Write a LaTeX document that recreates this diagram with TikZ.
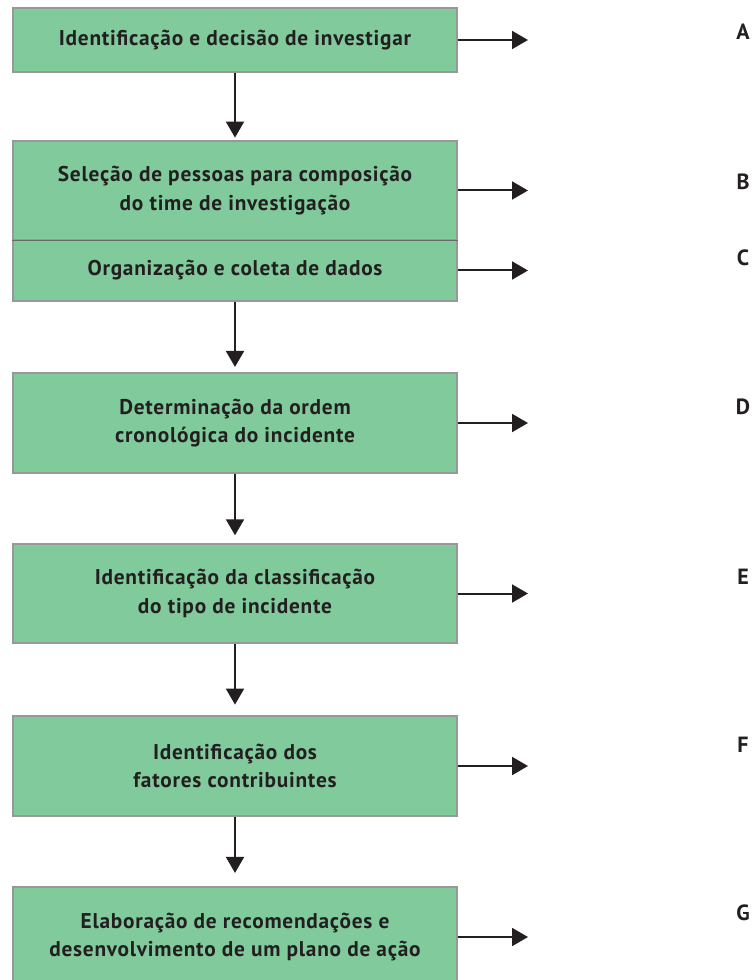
\documentclass[tikz,border=0pt]{standalone}
\usepackage{fontspec}
\setmainfont{PT Sans}[LetterSpace=3.5]
\usepackage{tikz}
\usetikzlibrary{arrows.meta}
\definecolor{box_green}{RGB}{128,202,155}
\definecolor{edge_gray}{RGB}{152,152,152}
\definecolor{line_gray}{RGB}{105,105,105}
\definecolor{ink}{RGB}{35,31,32}

\begin{document}
\begin{tikzpicture}[->,x=0.75pt,y=-0.75pt,>={Triangle[length=12pt,width=13.5pt]},line width=1.5pt,draw=ink]
    \tikzstyle{stepbox}=[draw=edge_gray,line width=1.1pt,fill=box_green,text=ink,minimum width=333pt,inner sep=0pt,align=center,font=\bfseries\fontsize{16}{21.5}\selectfont]
    \tikzstyle{letter}=[text=ink,font=\bfseries\fontsize{16.5}{18}\selectfont]
    \useasboundingbox (0,0) rectangle (755,980);

    \node[stepbox,minimum height=48pt]    (idf) at (235,40)    {Identificação e decisão de investigar};
    \node[stepbox,minimum height=74.25pt] (sel) at (235,190.5) {Seleção de pessoas para composição\\do time de investigação};
    \node[stepbox,minimum height=45.75pt] (org) at (235,270.5) {Organização e coleta de dados};
    \node[stepbox,minimum height=75pt]    (det) at (235,423)   {Determinação da ordem\\cronológica do incidente};
    \node[stepbox,minimum height=74.25pt] (cls) at (235,593.5) {Identificação da classificação\\do tipo de incidente};
    \node[stepbox,minimum height=75pt]    (fat) at (235,766)   {Identificação dos\\fatores contribuintes};
    \node[stepbox,minimum height=75pt]    (ela) at (235,937)   {Elaboração de recomendações e\\desenvolvimento de um plano de ação};
    \draw[-,line_gray,line width=1.1pt] (sel.south west) -- (sel.south east);

    \coordinate (tA) at (528,40);
    \coordinate (tB) at (528,190.5);
    \coordinate (tC) at (528,270.5);
    \coordinate (tD) at (528,423);
    \coordinate (tE) at (528,593.5);
    \coordinate (tF) at (528,766);
    \coordinate (tG) at (528,937);

    \node[letter] (lA) at (743,32)  {A};
    \node[letter] (lB) at (743,182) {B};
    \node[letter] (lC) at (743,258) {C};
    \node[letter] (lD) at (743,407) {D};
    \node[letter] (lE) at (743,577) {E};
    \node[letter] (lF) at (743,745) {F};
    \node[letter] (lG) at (743,913) {G};

    \path[every edge/.style={draw=ink,line width=1.5pt}]
     (idf) edge[shorten >=2pt] (sel)
     (org) edge[shorten >=4pt] (det)
     (det) edge[shorten >=6pt] (cls)
     (cls) edge[shorten >=8pt] (fat)
     (fat) edge[shorten >=10pt] (ela)
     (idf) edge (tA)
     (sel) edge (tB)
     (org) edge (tC)
     (det) edge (tD)
     (cls) edge (tE)
     (fat) edge (tF)
     (ela) edge (tG);
\end{tikzpicture}
\end{document}
